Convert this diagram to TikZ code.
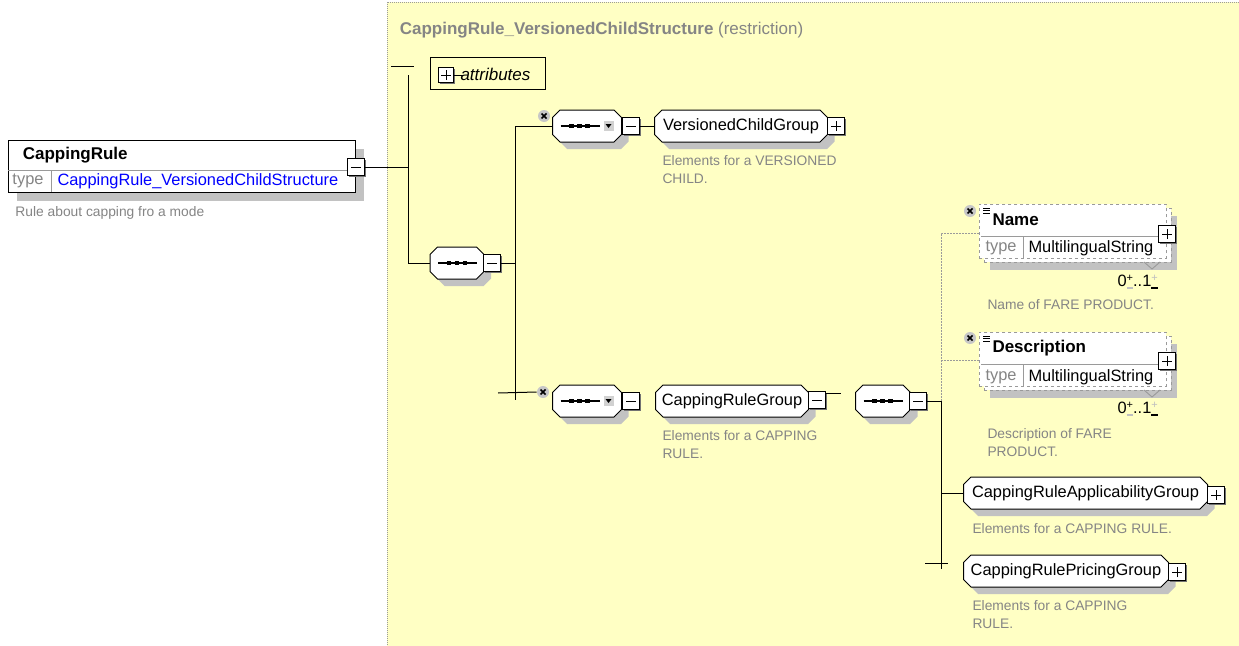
\documentclass[tikz,border=0pt]{standalone}
\usepackage{fontspec}
\setmainfont{Liberation Sans}
\usepackage{tikz}
\usetikzlibrary{shadows}
\usetikzlibrary{positioning}

\definecolor{xsdyellow}{HTML}{FFFFC4}
\definecolor{xsdgray}{HTML}{858585}
\definecolor{xsdframe}{HTML}{9A9A9A}
\definecolor{xsdshade}{HTML}{C2C2C2}
\definecolor{xsdblue}{HTML}{0000FF}

\newcommand{\xsdreg}{\fontsize{16.4}{19}\selectfont}
\newcommand{\xsdbold}{\fontsize{17}{20}\selectfont\bfseries}
\newcommand{\xsddesc}{\fontsize{13.8}{17.5}\selectfont}

% box with cut corners, used for groups and compositors
\makeatletter
\pgfdeclareshape{octobox}{%
  \inheritsavedanchors[from=rectangle]%
  \inheritanchorborder[from=rectangle]%
  \inheritanchor[from=rectangle]{center}%
  \inheritanchor[from=rectangle]{north}%
  \inheritanchor[from=rectangle]{south}%
  \inheritanchor[from=rectangle]{east}%
  \inheritanchor[from=rectangle]{west}%
  \inheritanchor[from=rectangle]{north east}%
  \inheritanchor[from=rectangle]{north west}%
  \inheritanchor[from=rectangle]{south east}%
  \inheritanchor[from=rectangle]{south west}%
  \inheritanchor[from=rectangle]{text}%
  \inheritanchor[from=rectangle]{base}%
  \backgroundpath{%
    \southwest\edef\ox@a{\the\pgf@x}\edef\oy@a{\the\pgf@y}%
    \northeast\edef\ox@b{\the\pgf@x}\edef\oy@b{\the\pgf@y}%
    \pgfpathmoveto{\pgfqpoint{\dimexpr\ox@a+7.5pt\relax}{\oy@a}}%
    \pgfpathlineto{\pgfqpoint{\dimexpr\ox@b-7.5pt\relax}{\oy@a}}%
    \pgfpathlineto{\pgfqpoint{\ox@b}{\dimexpr\oy@a+7.5pt\relax}}%
    \pgfpathlineto{\pgfqpoint{\ox@b}{\dimexpr\oy@b-7.5pt\relax}}%
    \pgfpathlineto{\pgfqpoint{\dimexpr\ox@b-7.5pt\relax}{\oy@b}}%
    \pgfpathlineto{\pgfqpoint{\dimexpr\ox@a+7.5pt\relax}{\oy@b}}%
    \pgfpathlineto{\pgfqpoint{\ox@a}{\dimexpr\oy@b-7.5pt\relax}}%
    \pgfpathlineto{\pgfqpoint{\ox@a}{\dimexpr\oy@a+7.5pt\relax}}%
    \pgfpathclose}%
}
\makeatother

% sequence glyph: a line with three small squares
\newcommand{\seqglyph}{%
  \draw[black, line width=1.2pt] ([xshift=8pt]path picture bounding box.west) -- ([xshift=47pt]path picture bounding box.west);
  \foreach \k in {19,27,35}
    \fill[black] ([xshift=\k pt]path picture bounding box.west) +(-2.2pt,-1.8pt) rectangle +(2.2pt,1.8pt);}
% little drop-down button of an optional compositor
\newcommand{\dropglyph}{%
  \fill[black!18] ([xshift=51pt,yshift=-5pt]path picture bounding box.west) rectangle ([xshift=61pt,yshift=5pt]path picture bounding box.west);
  \fill[black] ([xshift=53pt,yshift=2pt]path picture bounding box.west) -- ([xshift=59pt,yshift=2pt]path picture bounding box.west) -- ([xshift=56pt,yshift=-2pt]path picture bounding box.west) -- cycle;}
% +/- marks of an occurrence range
\newcommand{\occmark}[2]{{\fontsize{11}{11}\selectfont\rlap{\raisebox{5pt}{\color{#1}+}}\raisebox{-2pt}{\color{#2}\rule{6.5pt}{1.3pt}}}}

\begin{document}
\begin{tikzpicture}[x=1pt,y=-1pt,font=\xsdreg,line width=1pt,
    octo/.style={shape=octobox, draw, fill=white, inner sep=0pt, minimum height=31,
      general shadow={fill=xsdshade, shadow xshift=7pt, shadow yshift=-7pt}},
    seqnode/.style={octo, path picture={\seqglyph}},
    seqopt/.style={octo, path picture={\seqglyph\dropglyph}},
    btn/.style={rectangle, draw, fill=white, minimum size=17, inner sep=0pt,
      general shadow={fill=black!55, shadow xshift=1.5pt, shadow yshift=-1.5pt}},
    minusbox/.style={btn, path picture={
      \draw[black] ([xshift=-5pt]path picture bounding box.center) -- ([xshift=5pt]path picture bounding box.center);}},
    plusbox/.style={btn, path picture={
      \draw[black] ([xshift=-5pt]path picture bounding box.center) -- ([xshift=5pt]path picture bounding box.center);
      \draw[black] ([yshift=-5pt]path picture bounding box.center) -- ([yshift=5pt]path picture bounding box.center);}},
    optmark/.style={circle, fill=black!22, minimum size=12, inner sep=0pt, path picture={
      \draw[black, line width=1.5pt] ([shift={(-2.5pt,-2.5pt)}]path picture bounding box.center) -- ([shift={(2.5pt,2.5pt)}]path picture bounding box.center);
      \draw[black, line width=1.5pt] ([shift={(-2.5pt,2.5pt)}]path picture bounding box.center) -- ([shift={(2.5pt,-2.5pt)}]path picture bounding box.center);}},
    optbox/.style={rectangle, draw=xsdframe, line width=0.8pt, dashed, fill=white, anchor=north west,
      minimum width=187, minimum height=54, inner sep=0pt,
      general shadow={fill=xsdshade, shadow xshift=11pt, shadow yshift=-12pt},
      general shadow={draw=xsdframe, dashed, fill=white, shadow xshift=5pt, shadow yshift=-4pt}},
    rowline/.style={xsdframe, line width=0.9pt},
    desc/.style={text=xsdgray, font=\xsddesc, align=left, inner sep=0pt},
    optline/.style={xsdframe, line width=0.8pt, dash pattern=on 2pt off 1pt},
  ]
  \useasboundingbox (0,0) rectangle (1239,645);
  \fill[white] (0,0) rectangle (1239,645);

  % complex type area
  \draw[xsdframe, line width=0.8pt, fill=xsdyellow, dash pattern=on 1pt off 1pt] (387,2) rectangle (1250,660);
  \node[anchor=west, text=xsdgray, font=\xsdbold] (title) at (396,30)
    {CappingRule\_VersionedChildStructure \mdseries(restriction)};

  % the element itself
  \node[rectangle, draw, fill=white, anchor=north west, minimum width=347, minimum height=52,
    general shadow={fill=xsdshade, shadow xshift=8pt, shadow yshift=-8pt}] (crule) at (8,140) {};
  \node[anchor=west, font=\xsdbold] (crname) at (19,155) {CappingRule};
  \draw[rowline] ([yshift=-30pt]crule.north west) -- ([yshift=-30pt]crule.north east);
  \draw[rowline] (51,170) -- (51,192);
  \node[anchor=west, text=xsdgray, inner sep=0pt] (crtype) at (12,181) {type};
  \node[anchor=west, text=xsdblue, inner sep=0pt] (crtypename) at (57,181) {CappingRule\_VersionedChildStructure};
  \node[minusbox] (crminus) at (356,167) {};
  \node[desc, anchor=west] (crdesc) at (15,213) {Rule about capping fro a mode};

  % attributes
  \node[rectangle, draw, anchor=north west, minimum width=115, minimum height=32] (attrs) at (430,57) {};
  \node[plusbox, minimum size=15] (attrplus) at (446,75) {};
  \draw (attrplus.east) -- ++(9,0);
  \node[anchor=west, font=\fontsize{17}{20}\selectfont\itshape, inner sep=0pt] (attrtext) at (460,74) {attributes};
  \coordinate (attrstubL) at (391,66);
  \coordinate (attrstubR) at (414,66);
  \draw (attrstubL) -- (attrstubR);

  % main sequence
  \coordinate (spinetop) at (408,75);
  \coordinate (spine) at (408,167);
  \coordinate (spinebot) at (408,263);
  \node[seqnode, minimum width=53] (seqmain) at (457,263) {};
  \node[minusbox] (mainminus) at (492,263) {};
  \draw (crminus.east) -- (spine);
  \draw (spinetop) -- (spinebot) -- (seqmain.west);

  \coordinate (fork) at (515,263);
  \coordinate (forktop) at (515,126);
  \coordinate (forkbot) at (515,400);
  \draw (mainminus.east) -- (fork);
  \draw (forktop) -- (forkbot);

  % versioned child branch
  \node[seqopt, minimum width=68] (seqvc) at (587,126) {};
  \node[optmark] (vcx) at (544,116) {};
  \node[minusbox] (vcminus) at (631,126) {};
  \node[octo, minimum width=172] (vcgroup) at (741,126) {VersionedChildGroup};
  \node[plusbox] (vcplus) at (836,126) {};
  \node[desc, anchor=north west] (vcdesc) at (662,155) {Elements for a VERSIONED\\CHILD.};
  \draw (forktop) -- (seqvc.west);
  \draw (vcminus.east) -- (vcgroup.west);

  % capping rule branch
  \coordinate (crossL) at (498,393);
  \node[optmark] (crx) at (543,392) {};
  \draw (crossL) -- (crx.west);
  \node[seqopt, minimum width=68] (seqcr) at (587,401) {};
  \node[minusbox] (seqcrminus) at (631,401) {};
  \node[octo, minimum width=152] (crgroup) at (732,401) {CappingRuleGroup};
  \node[minusbox] (crgminus) at (817,400) {};
  \node[desc, anchor=north west] (crgdesc) at (662,430) {Elements for a CAPPING\\RULE.};
  \coordinate (crgstub) at (841,393);
  \draw (crgminus.east |- crgstub) -- (crgstub);

  % inner sequence
  \node[seqnode, minimum width=54] (seqin) at (883,401) {};
  \node[minusbox] (inminus) at (918,401) {};
  \coordinate (rail) at (941,401);
  \coordinate (railtop) at (941,233);
  \coordinate (railmid) at (941,360);
  \coordinate (railbot) at (941,569);
  \draw (inminus.east) -- (rail) -- (railbot);

  % Name
  \node[optbox] (name) at (979,204) {};
  \node[optmark] (namex) at (970,211) {};
  \foreach \d in {0,2.5,5} \draw[line width=0.8pt] (983,208+\d) -- (990,208+\d);
  \node[anchor=west, font=\xsdbold, inner sep=0pt] (namehead) at (992,220) {Name};
  \draw[rowline] (981,236) -- (1165,236);
  \draw[rowline] (1023,236) -- (1023,258);
  \node[anchor=west, text=xsdgray, inner sep=0pt] (nametype) at (985,248) {type};
  \node[anchor=west, inner sep=0pt] (nametypename) at (1028,248) {MultilingualString};
  \node[plusbox] (nameplus) at (1167,234) {};
  \draw[rowline] (1144,262) -- (1152,269) -- (1160,262);
  \node[anchor=west, inner sep=0pt] (namecard) at (1117,282) {0\occmark{black}{black!25}..1\occmark{black!25}{black}};
  \node[desc, anchor=west] (namedesc) at (987,305) {Name of FARE PRODUCT.};
  \draw[optline] (rail) -- (railtop) -- (name.west |- railtop);

  % Description
  \node[optbox] (descr) at (979,332) {};
  \node[optmark] (descrx) at (970,338) {};
  \foreach \d in {0,2.5,5} \draw[line width=0.8pt] (983,336+\d) -- (990,336+\d);
  \node[anchor=west, font=\xsdbold, inner sep=0pt] (descrhead) at (992,348) {Description};
  \draw[rowline] (981,364) -- (1165,364);
  \draw[rowline] (1023,364) -- (1023,386);
  \node[anchor=west, text=xsdgray, inner sep=0pt] (descrtype) at (985,377) {type};
  \node[anchor=west, inner sep=0pt] (descrtypename) at (1028,377) {MultilingualString};
  \node[plusbox] (descrplus) at (1167,361) {};
  \draw[rowline] (1144,390) -- (1152,397) -- (1160,390);
  \node[anchor=west, inner sep=0pt] (descrcard) at (1117,409) {0\occmark{black}{black!25}..1\occmark{black!25}{black}};
  \node[desc, anchor=north west] (descrdesc) at (987,428) {Description of FARE\\PRODUCT.};
  \draw[optline] (railmid) -- (descr.west |- railmid);

  % the two groups at the end
  \node[octo, minimum width=243] (appgroup) at (1085.5,493) {CappingRuleApplicabilityGroup};
  \node[plusbox] (appplus) at (1216,495) {};
  \node[desc, anchor=west] (appdesc) at (972,529) {Elements for a CAPPING RULE.};
  \draw (rail |- appgroup.west) -- (appgroup.west);

  \node[octo, minimum width=204] (pricegroup) at (1066,571) {CappingRulePricingGroup};
  \node[plusbox] (priceplus) at (1177,572) {};
  \node[desc, anchor=north west] (pricedesc) at (972,600) {Elements for a CAPPING\\RULE.};
  \coordinate (botL) at (925,563);
  \coordinate (botR) at (948,563);
  \draw (botL) -- (botR);
\end{tikzpicture}
\end{document}
